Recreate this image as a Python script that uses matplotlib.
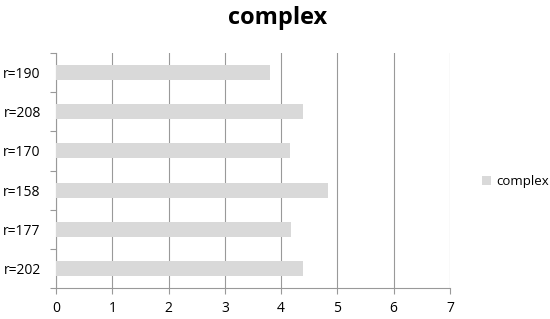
import matplotlib
matplotlib.use("Agg")
import matplotlib.pyplot as plt
from matplotlib.ticker import MultipleLocator, FixedLocator

# categories bottom to top
labels = ["r=202", "r=177", "r=158", "r=170", "r=208", "r=190"]
values = [4.39, 4.17, 4.83, 4.15, 4.39, 3.81]
series_name = "complex"

plt.rcParams['font.family'] = ['Open Sans', 'DejaVu Sans']

fig = plt.figure(figsize=(5.5, 3.19), dpi=100)
ax = fig.add_axes([0.102, 0.097, 0.716, 0.737])

pos = list(range(len(labels)))
ax.barh(pos, values, height=0.38, color='#d9d9d9', label=series_name, zorder=3)

ax.set_xlim(0, 7)
ax.set_ylim(-0.5, len(labels) - 0.5)
ax.xaxis.set_major_locator(MultipleLocator(1))
ax.grid(axis='x', color='#999999', linewidth=0.8, zorder=0)

ax.set_yticks(pos)
ax.set_yticklabels(labels, fontsize=10)
ax.yaxis.set_minor_locator(FixedLocator([p + 0.5 for p in pos[:-1]] + [-0.5, len(labels) - 0.5]))
ax.tick_params(axis='y', which='major', length=0, pad=11)
ax.tick_params(axis='y', which='minor', length=4, color='#999999', width=0.8)
ax.tick_params(axis='x', length=4, color='#999999', width=0.8, labelsize=10, pad=5)

for s in ['top', 'right']:
    ax.spines[s].set_visible(False)
for s in ['left', 'bottom']:
    ax.spines[s].set_color('#999999')
    ax.spines[s].set_linewidth(0.8)

fig.suptitle(series_name, x=0.505, y=0.945, fontsize=17, fontweight='bold', va='center')

leg = fig.legend(loc='center left', bbox_to_anchor=(0.855, 0.43), frameon=False,
                 fontsize=9.5, handlelength=0.7, handleheight=0.7, handletextpad=0.4)

fig.savefig("out.png", dpi=100)
